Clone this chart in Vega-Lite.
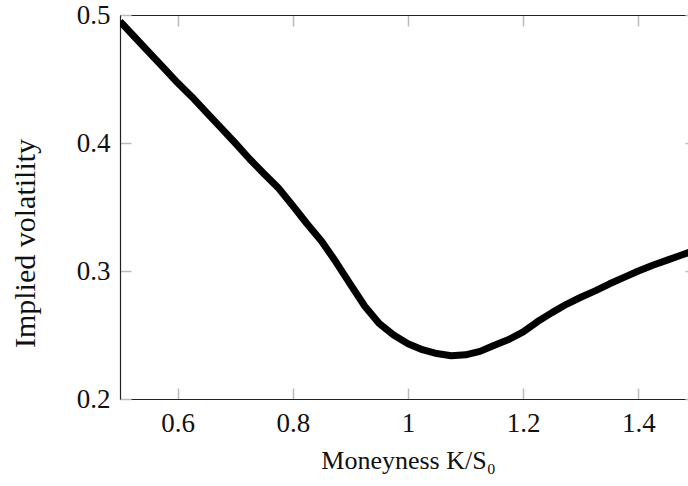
{
  "$schema": "https://vega.github.io/schema/vega-lite/v6.json",
  "width": 576,
  "height": 384,
  "autosize": {"type": "none"},
  "padding": {"left": 120, "top": 15, "right": 0, "bottom": 87},
  "config": {
    "view": {"stroke": null},
    "font": "Liberation Serif",
    "axis": {
      "grid": false,
      "domainColor": "#222222",
      "domainWidth": 1.2,
      "tickColor": "#bbbbbb",
      "tickWidth": 1.5,
      "tickSize": -11,
      "labelFont": "Liberation Serif",
      "labelFontSize": 27,
      "labelColor": "#111111",
      "titleFont": "Liberation Serif",
      "titleFontSize": 26,
      "titleFontWeight": "normal",
      "titleColor": "#111111"
    }
  },
  "data": {
    "values": [
      {"m": 0.5, "v": 0.495},
      {"m": 0.525, "v": 0.483},
      {"m": 0.55, "v": 0.471},
      {"m": 0.575, "v": 0.459},
      {"m": 0.6, "v": 0.447},
      {"m": 0.625, "v": 0.436},
      {"m": 0.65, "v": 0.424},
      {"m": 0.675, "v": 0.412},
      {"m": 0.7, "v": 0.4},
      {"m": 0.725, "v": 0.3875},
      {"m": 0.75, "v": 0.376},
      {"m": 0.775, "v": 0.3648},
      {"m": 0.8, "v": 0.351},
      {"m": 0.825, "v": 0.3367},
      {"m": 0.85, "v": 0.3233},
      {"m": 0.875, "v": 0.307},
      {"m": 0.9, "v": 0.2895},
      {"m": 0.925, "v": 0.2725},
      {"m": 0.95, "v": 0.259},
      {"m": 0.975, "v": 0.25},
      {"m": 1.0, "v": 0.2432},
      {"m": 1.025, "v": 0.2385},
      {"m": 1.05, "v": 0.2355},
      {"m": 1.075, "v": 0.2338},
      {"m": 1.1, "v": 0.2345},
      {"m": 1.125, "v": 0.2372},
      {"m": 1.15, "v": 0.242},
      {"m": 1.175, "v": 0.2465},
      {"m": 1.2, "v": 0.2525},
      {"m": 1.225, "v": 0.2605},
      {"m": 1.25, "v": 0.2675},
      {"m": 1.275, "v": 0.274},
      {"m": 1.3, "v": 0.2795},
      {"m": 1.325, "v": 0.2845},
      {"m": 1.35, "v": 0.29},
      {"m": 1.375, "v": 0.295},
      {"m": 1.4, "v": 0.3},
      {"m": 1.425, "v": 0.3045},
      {"m": 1.45, "v": 0.3085},
      {"m": 1.475, "v": 0.3125},
      {"m": 1.5, "v": 0.3165}
    ]
  },
  "layer": [
    {
      "mark": {"type": "line", "color": "black", "strokeWidth": 7, "strokeJoin": "round", "clip": true},
      "encoding": {
        "x": {
          "field": "m", "type": "quantitative",
          "scale": {"domain": [0.5, 1.5], "nice": false, "zero": false},
          "axis": {
            "orient": "bottom",
            "values": [0.6, 0.8, 1, 1.2, 1.4],
            "labelExpr": "'' + datum.value",
            "labelPadding": 22,
            "title": "Moneyness K/S₀",
            "titleBaseline": "alphabetic",
            "titleY": 69
          }
        },
        "y": {
          "field": "v", "type": "quantitative",
          "scale": {"domain": [0.2, 0.5], "nice": false, "zero": false},
          "axis": {
            "orient": "left",
            "values": [0.2, 0.3, 0.4, 0.5],
            "labelExpr": "'' + datum.value",
            "labelPadding": 21,
            "title": "Implied volatility",
            "titleFontSize": 30,
            "titleBaseline": "alphabetic",
            "titleX": -86,
            "titleY": 228
          }
        }
      }
    },
    {
      "mark": {"type": "line", "opacity": 0},
      "encoding": {
        "x": {
          "field": "m", "type": "quantitative",
          "scale": {"domain": [0.5, 1.5], "nice": false, "zero": false},
          "axis": {"orient": "top", "values": [0.6, 0.8, 1, 1.2, 1.4], "labels": false, "title": null}
        },
        "y": {
          "field": "v", "type": "quantitative",
          "scale": {"domain": [0.2, 0.5], "nice": false, "zero": false},
          "axis": {"orient": "right", "values": [0.2, 0.3, 0.4, 0.5], "labels": false, "title": null}
        }
      }
    }
  ],
  "resolve": {"axis": {"x": "independent", "y": "independent"}}
}
